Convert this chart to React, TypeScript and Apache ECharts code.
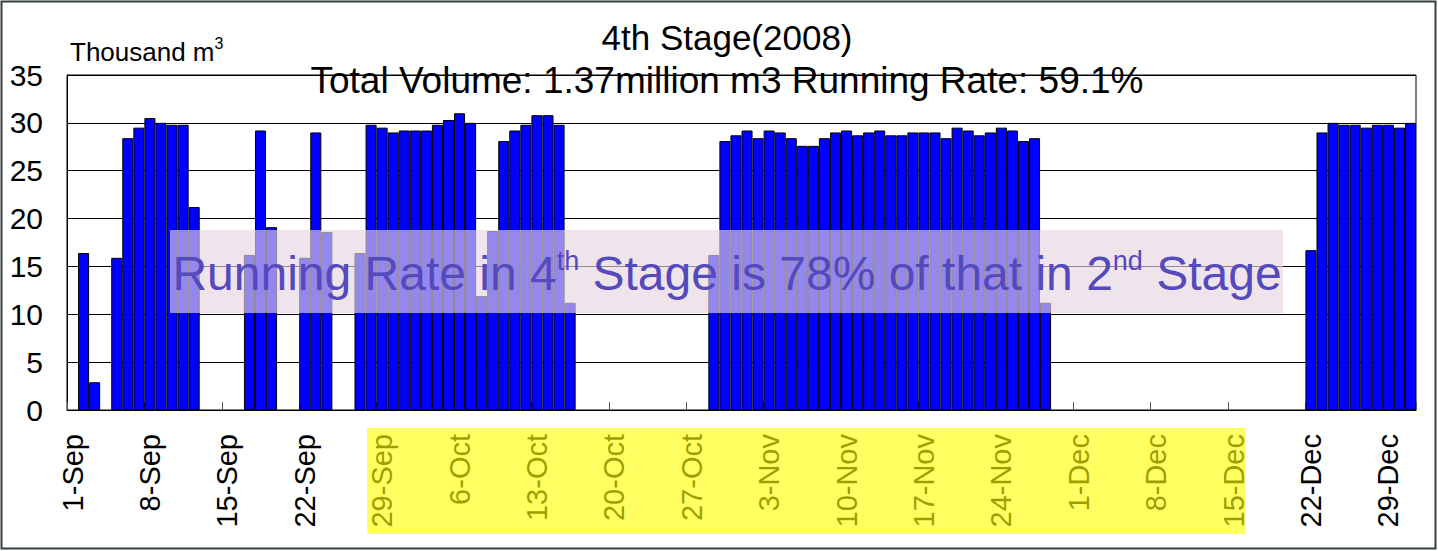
import React, { useEffect, useRef } from "react";
import * as echarts from "echarts";

// ---- data ----
const months = ["Sep", "Oct", "Nov", "Dec"];
const monthLengths = [30, 31, 30, 31];

// daily volume, thousand m3 (null = not running)
const sepValues: (number | null)[] = [
  null, 16.4, 2.9, null, 15.9, 28.4, 29.5, 30.5, 30.0, 29.8,
  29.8, 21.2, null, null, null, null, 16.2, 29.2, 19.1, null,
  null, 15.9, 29.0, 18.6, null, null, 16.4, 29.8, 29.5, 29.0,
];
const octValues: (number | null)[] = [
  29.2, 29.2, 29.2, 29.8, 30.3, 31.0, 30.0, 11.9, 18.7, 28.1,
  29.2, 29.8, 30.8, 30.8, 29.8, 11.2, null, null, null, null,
  null, null, null, null, null, null, null, null, 16.2, 28.1,
  28.7,
];
const novValues: (number | null)[] = [
  29.2, 28.4, 29.2, 29.0, 28.4, 27.6, 27.6, 28.4, 29.0, 29.2,
  28.7, 29.0, 29.2, 28.7, 28.7, 29.0, 29.0, 29.0, 28.4, 29.5,
  29.2, 28.7, 29.0, 29.5, 29.2, 28.1, 28.4, 11.2, null, null,
];
const decValues: (number | null)[] = [
  null, null, null, null, null, null, null, null, null, null,
  null, null, null, null, null, null, null, null, null, null,
  null, 16.7, 29.0, 30.0, 29.8, 29.8, 29.5, 29.8, 29.8, 29.5,
  30.0,
];

const yTicks = { min: 0, max: 35, interval: 5 };

const titleText = "4th Stage(2008)";
const subtitleText = "Total Volume: 1.37million m3 Running Rate: 59.1%";
const unitMain = "Thousand m";
const unitSup = "3";

const categories: string[] = [];
months.forEach((m, i) => {
  for (let d = 1; d <= monthLengths[i]; d++) categories.push(`${d}-${m}`);
});
const values = [...sepValues, ...octValues, ...novValues, ...decValues];

const FONT = "'Liberation Sans', Arial, sans-serif";

export default function App() {
  const ref = useRef<HTMLDivElement>(null);
  useEffect(() => {
    if (!ref.current) return;
    const chart = echarts.init(ref.current, undefined, { renderer: "svg" });
    chart.setOption({
      animation: false,
      backgroundColor: "#ffffff",
      textStyle: { fontFamily: FONT, color: "#000" },
      grid: {
        left: 67,
        right: 22,
        top: 75,
        bottom: 141,
        show: true,
        borderColor: "#000",
        borderWidth: 1,
        backgroundColor: "transparent",
      },
      xAxis: {
        type: "category",
        data: categories,
        boundaryGap: true,
        axisLine: { lineStyle: { color: "#000", width: 1 } },
        axisTick: {
          show: true,
          inside: true,
          length: 8,
          interval: 6,
          lineStyle: { color: "#555" },
        },
        axisLabel: {
          interval: 6,
          rotate: 90,
          margin: 24,
          fontSize: 29,
          color: "#000",
          fontFamily: FONT,
        },
        splitLine: { show: false },
      },
      yAxis: {
        type: "value",
        min: yTicks.min,
        max: yTicks.max,
        interval: yTicks.interval,
        axisLine: { show: true, lineStyle: { color: "#000" } },
        axisTick: { show: false },
        axisLabel: { fontSize: 30, color: "#000", margin: 24, fontFamily: FONT },
        splitLine: { show: true, lineStyle: { color: "#000", width: 1 } },
      },
      series: [
        {
          type: "bar",
          data: values,
          barCategoryGap: "0%",
          itemStyle: { color: "#0000ff", borderColor: "#000", borderWidth: 1 },
        },
      ],
      graphic: [
        {
          type: "rect",
          z: 200,
          shape: { x: 1.5, y: 1.5, width: 1434, height: 547 },
          style: { fill: "none", stroke: "#34403f", lineWidth: 2 },
        },
        {
          type: "text",
          z: 60,
          x: 727,
          y: 37,
          style: {
            text: titleText,
            fontSize: 35,
            fontFamily: FONT,
            fill: "#000",
            align: "center",
            verticalAlign: "middle",
          },
        },
        {
          type: "text",
          z: 60,
          x: 727,
          y: 80,
          style: {
            text: subtitleText,
            fontSize: 37,
            fontFamily: FONT,
            fill: "#000",
            align: "center",
            verticalAlign: "middle",
          },
        },
        {
          type: "text",
          z: 60,
          x: 70,
          y: 50,
          style: {
            text: `{a|${unitMain}}{s|${unitSup}}`,
            fontFamily: FONT,
            fill: "#000",
            align: "left",
            verticalAlign: "middle",
            rich: {
              a: { fontSize: 26, fontFamily: FONT, fill: "#000", lineHeight: 30, verticalAlign: "bottom" },
              s: { fontSize: 16, fontFamily: FONT, fill: "#000", lineHeight: 30, verticalAlign: "top" },
            },
          },
        },
        {
          type: "rect",
          z: 50,
          shape: { x: 170, y: 230, width: 1113, height: 83 },
          style: { fill: "rgba(231,213,226,0.64)" },
        },
        {
          type: "text",
          z: 51,
          x: 727,
          y: 272,
          style: {
            text: "{a|Running Rate in 4}{s|th}{a| Stage is 78% of that in 2}{s|nd}{a| Stage}",
            fontFamily: FONT,
            fill: "#5449bd",
            align: "center",
            verticalAlign: "middle",
            rich: {
              a: { fontSize: 48, fontFamily: FONT, fill: "#5449bd", lineHeight: 50, verticalAlign: "bottom" },
              s: { fontSize: 27, fontFamily: FONT, fill: "#5449bd", lineHeight: 50, verticalAlign: "top" },
            },
          },
        },
        {
          type: "rect",
          z: 50,
          shape: { x: 367, y: 428, width: 878, height: 106 },
          style: { fill: "rgba(255,255,0,0.62)" },
        },
      ],
    });
    return () => chart.dispose();
  }, []);
  return (
    <div
      ref={ref}
      style={{ position: "absolute", left: 0, top: 0, width: 1438, height: 551 }}
    />
  );
}
